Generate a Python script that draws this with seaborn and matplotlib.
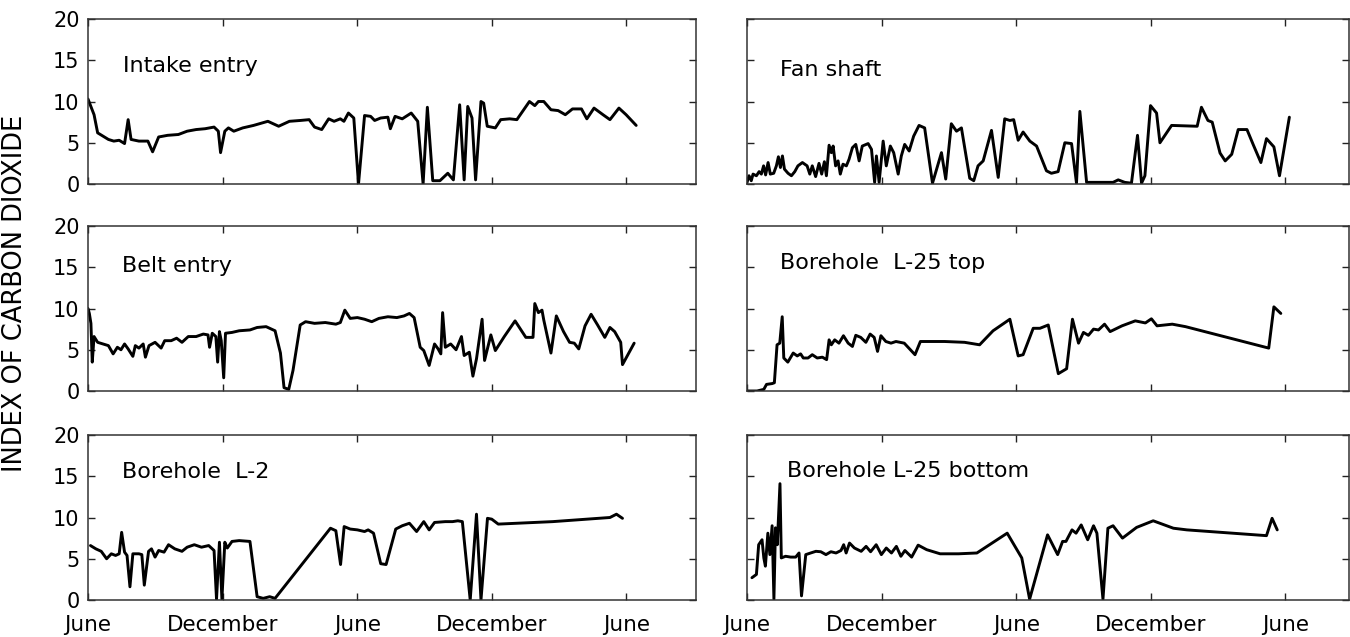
import matplotlib
matplotlib.use("Agg")
import matplotlib.pyplot as plt
import seaborn as sns

# Months elapsed since the first June, and index of carbon dioxide
intake_entry = [
    (0.00, 10.3), (0.27, 8.4), (0.43, 6.2), (0.67, 5.8), (0.91, 5.4), (1.15, 5.2),
    (1.39, 5.3), (1.63, 4.9), (1.79, 7.8), (1.92, 5.4), (2.27, 5.2), (2.67, 5.2),
    (2.88, 3.9), (3.15, 5.7), (3.55, 5.9), (4.03, 6.0), (4.42, 6.4), (4.82, 6.6),
    (5.22, 6.7), (5.62, 6.9), (5.81, 6.4), (5.91, 3.8), (6.10, 6.4), (6.26, 6.8),
    (6.50, 6.4), (6.90, 6.8), (7.38, 7.1), (8.02, 7.6), (8.50, 7.0), (8.98, 7.6),
    (9.46, 7.7), (9.86, 7.8), (10.10, 6.9), (10.42, 6.6), (10.73, 7.9), (10.97, 7.6),
    (11.25, 7.9), (11.41, 7.6), (11.61, 8.6), (11.85, 8.0), (12.06, 0.0), (12.33, 8.3),
    (12.60, 8.2), (12.78, 7.7), (13.05, 8.0), (13.37, 8.1), (13.48, 6.7), (13.69, 8.2),
    (14.01, 7.9), (14.41, 8.6), (14.70, 7.6), (14.94, 0.0), (15.13, 9.3), (15.37, 0.4),
    (15.69, 0.4), (16.04, 1.3), (16.29, 0.5), (16.57, 9.6), (16.77, 0.5), (16.93, 9.4),
    (17.12, 8.0), (17.28, 0.5), (17.52, 10.0), (17.64, 9.8), (17.80, 7.0), (18.16, 6.8),
    (18.40, 7.8), (18.80, 7.9), (19.12, 7.8), (19.68, 10.0), (19.92, 9.5), (20.08, 10.0),
    (20.32, 10.0), (20.64, 9.0), (20.96, 8.9), (21.28, 8.4), (21.60, 9.1), (22.00, 9.1),
    (22.24, 7.9), (22.56, 9.2), (22.96, 8.4), (23.27, 7.8), (23.67, 9.2), (23.99, 8.4),
    (24.44, 7.1),
]

fan_shaft = [
    (0.00, 0.2), (0.09, 1.0), (0.19, 0.4), (0.27, 1.2), (0.42, 1.0), (0.54, 1.5),
    (0.64, 1.2), (0.74, 2.2), (0.83, 1.1), (0.94, 2.6), (1.04, 1.2), (1.19, 1.3),
    (1.31, 2.2), (1.40, 3.3), (1.49, 2.0), (1.58, 3.4), (1.67, 1.8), (1.83, 1.3),
    (1.98, 1.0), (2.13, 1.5), (2.27, 2.2), (2.47, 2.6), (2.68, 2.2), (2.80, 1.2),
    (2.91, 2.2), (3.06, 0.9), (3.21, 2.5), (3.33, 1.2), (3.45, 2.7), (3.54, 1.0),
    (3.66, 4.7), (3.76, 3.8), (3.84, 4.6), (3.95, 2.2), (4.06, 2.8), (4.16, 1.2),
    (4.28, 2.4), (4.43, 2.2), (4.55, 3.0), (4.70, 4.4), (4.85, 4.8), (5.00, 2.8),
    (5.14, 4.6), (5.40, 4.9), (5.55, 4.2), (5.69, 0.2), (5.77, 3.4), (5.89, 0.2),
    (6.07, 5.2), (6.21, 2.2), (6.39, 4.6), (6.54, 3.8), (6.74, 1.2), (6.88, 3.4),
    (7.03, 4.8), (7.23, 4.0), (7.43, 5.8), (7.67, 7.1), (7.92, 6.8), (8.27, 0.1),
    (8.67, 3.8), (8.86, 0.6), (9.11, 7.3), (9.34, 6.4), (9.56, 6.8), (9.93, 0.7),
    (10.11, 0.4), (10.30, 2.2), (10.53, 2.8), (10.90, 6.5), (11.20, 0.8), (11.49, 7.9),
    (11.72, 7.7), (11.89, 7.8), (12.09, 5.3), (12.31, 6.3), (12.61, 5.2), (12.91, 4.6),
    (13.35, 1.6), (13.57, 1.3), (13.87, 1.5), (14.17, 5.0), (14.47, 4.9), (14.69, 0.1),
    (14.84, 8.8), (15.14, 0.2), (15.88, 0.2), (16.32, 0.2), (16.55, 0.5), (16.84, 0.2),
    (17.14, 0.1), (17.41, 5.9), (17.59, 0.1), (17.74, 1.0), (17.99, 9.5), (18.26, 8.6),
    (18.41, 5.0), (18.93, 7.1), (20.07, 7.0), (20.26, 9.3), (20.55, 7.7), (20.74, 7.5),
    (21.09, 3.75), (21.32, 2.8), (21.61, 3.6), (21.90, 6.6), (22.29, 6.6), (22.58, 4.7),
    (22.91, 2.6), (23.16, 5.5), (23.49, 4.5), (23.74, 1.0), (24.18, 8.1),
]

belt_entry = [
    (0.00, 10.0), (0.06, 9.4), (0.13, 8.2), (0.19, 3.5), (0.27, 6.6), (0.43, 5.9),
    (0.67, 5.7), (0.91, 5.5), (1.12, 4.5), (1.31, 5.3), (1.47, 5.0), (1.63, 5.7),
    (1.79, 5.1), (2.00, 4.2), (2.11, 5.5), (2.27, 5.2), (2.46, 5.7), (2.56, 4.1),
    (2.72, 5.5), (2.99, 5.9), (3.26, 5.2), (3.42, 6.1), (3.71, 6.1), (3.95, 6.4),
    (4.19, 5.9), (4.47, 6.6), (4.82, 6.6), (5.14, 6.9), (5.35, 6.8), (5.42, 5.3),
    (5.54, 7.0), (5.70, 6.6), (5.78, 3.5), (5.86, 7.2), (5.94, 6.1), (6.05, 1.6),
    (6.13, 7.0), (6.42, 7.1), (6.74, 7.3), (7.22, 7.4), (7.54, 7.7), (7.94, 7.8),
    (8.34, 7.3), (8.58, 4.6), (8.74, 0.4), (8.95, 0.2), (9.14, 2.5), (9.46, 8.0),
    (9.70, 8.4), (10.10, 8.2), (10.58, 8.3), (11.05, 8.1), (11.25, 8.3), (11.45, 9.8),
    (11.69, 8.8), (12.01, 8.9), (12.33, 8.7), (12.65, 8.4), (12.97, 8.8), (13.37, 9.0),
    (13.77, 8.9), (14.09, 9.1), (14.33, 9.4), (14.54, 8.9), (14.81, 5.3), (14.97, 4.9),
    (15.21, 3.1), (15.45, 5.7), (15.61, 5.1), (15.73, 4.5), (15.81, 9.5), (15.93, 5.3),
    (16.17, 5.7), (16.41, 5.0), (16.65, 6.6), (16.77, 4.3), (17.00, 4.7), (17.16, 1.8),
    (17.32, 3.9), (17.57, 8.7), (17.68, 3.7), (17.96, 6.8), (18.16, 4.9), (18.56, 6.6),
    (19.04, 8.5), (19.52, 6.5), (19.84, 6.5), (19.92, 10.6), (20.08, 9.5), (20.24, 9.8),
    (20.32, 8.6), (20.64, 4.6), (20.88, 9.1), (21.20, 7.2), (21.47, 5.9), (21.68, 5.8),
    (21.88, 5.1), (22.16, 7.9), (22.43, 9.3), (22.72, 8.0), (23.04, 6.5), (23.27, 7.7),
    (23.48, 7.2), (23.75, 5.9), (23.83, 3.2), (24.35, 5.8),
]

borehole_l25_top = [
    (0.00, 0.0), (0.45, 0.0), (0.75, 0.2), (0.87, 0.8), (1.12, 0.9), (1.22, 1.0),
    (1.34, 5.6), (1.46, 5.8), (1.57, 9.0), (1.64, 4.0), (1.82, 3.5), (2.06, 4.6),
    (2.24, 4.25), (2.39, 4.5), (2.51, 4.0), (2.72, 4.0), (2.91, 4.4), (3.13, 4.0),
    (3.36, 4.1), (3.55, 3.8), (3.66, 6.2), (3.76, 5.6), (3.91, 6.2), (4.10, 5.8),
    (4.30, 6.7), (4.51, 5.8), (4.70, 5.4), (4.85, 6.75), (5.07, 6.5), (5.30, 5.9),
    (5.49, 6.9), (5.67, 6.5), (5.82, 4.8), (5.97, 6.7), (6.19, 6.0), (6.42, 5.8),
    (6.64, 6.0), (7.01, 5.8), (7.49, 4.4), (7.73, 6.0), (8.81, 6.0), (9.70, 5.9),
    (10.37, 5.6), (10.97, 7.3), (11.72, 8.7), (12.09, 4.25), (12.31, 4.4), (12.76, 7.6),
    (13.06, 7.6), (13.43, 8.0), (13.88, 2.1), (14.25, 2.7), (14.51, 8.7), (14.78, 5.8),
    (15.00, 7.1), (15.22, 6.75), (15.45, 7.5), (15.67, 7.4), (15.94, 8.1), (16.19, 7.2),
    (16.72, 7.9), (17.31, 8.5), (17.76, 8.25), (18.03, 8.75), (18.28, 7.9), (18.96, 8.1),
    (19.55, 7.8), (23.26, 5.2), (23.49, 10.2), (23.80, 9.4),
]

borehole_l2 = [
    (0.11, 6.6), (0.35, 6.2), (0.59, 5.9), (0.83, 5.0), (1.04, 5.6), (1.23, 5.4),
    (1.39, 5.6), (1.50, 8.2), (1.63, 5.8), (1.74, 5.4), (1.87, 1.6), (2.00, 5.6),
    (2.27, 5.6), (2.40, 5.5), (2.51, 1.8), (2.70, 5.9), (2.83, 6.2), (2.99, 5.2),
    (3.15, 6.0), (3.39, 5.8), (3.59, 6.7), (3.87, 6.2), (4.19, 5.9), (4.42, 6.4),
    (4.74, 6.7), (5.06, 6.4), (5.38, 6.6), (5.62, 6.0), (5.73, 0.1), (5.86, 7.0),
    (5.97, 0.1), (6.10, 7.0), (6.21, 6.3), (6.42, 7.1), (6.74, 7.2), (7.22, 7.1),
    (7.54, 0.4), (7.81, 0.2), (8.10, 0.4), (8.34, 0.2), (10.81, 8.7), (11.05, 8.4),
    (11.26, 4.3), (11.42, 8.9), (11.69, 8.6), (12.01, 8.5), (12.33, 8.3), (12.49, 8.5),
    (12.73, 8.1), (13.05, 4.4), (13.29, 4.3), (13.72, 8.6), (14.01, 9.0), (14.33, 9.3),
    (14.65, 8.3), (14.97, 9.5), (15.21, 8.5), (15.45, 9.4), (15.93, 9.5), (16.25, 9.5),
    (16.49, 9.6), (16.69, 9.5), (17.04, 0.0), (17.32, 10.4), (17.52, 0.0), (17.81, 9.9),
    (18.00, 9.8), (18.29, 9.2), (20.72, 9.5), (23.27, 10.0), (23.56, 10.4), (23.83, 9.9),
]

borehole_l25_bottom = [
    (0.22, 2.7), (0.42, 3.1), (0.52, 6.7), (0.67, 7.3), (0.75, 5.1), (0.82, 4.1),
    (0.93, 8.1), (1.02, 5.5), (1.12, 9.0), (1.20, 0.1), (1.27, 8.75), (1.35, 6.7),
    (1.47, 14.1), (1.53, 5.1), (1.72, 5.3), (1.95, 5.2), (2.17, 5.2), (2.32, 5.7),
    (2.43, 0.5), (2.62, 5.5), (2.84, 5.7), (3.07, 5.9), (3.29, 5.85), (3.52, 5.5),
    (3.74, 5.85), (3.97, 5.7), (4.19, 6.0), (4.31, 6.7), (4.42, 5.7), (4.57, 6.9),
    (4.79, 6.3), (5.09, 5.9), (5.31, 6.5), (5.51, 5.85), (5.76, 6.7), (5.99, 5.5),
    (6.21, 6.3), (6.44, 5.7), (6.66, 6.5), (6.86, 5.3), (7.04, 6.0), (7.34, 5.2),
    (7.63, 6.65), (8.01, 6.1), (8.61, 5.6), (9.43, 5.6), (10.25, 5.7), (11.60, 8.1),
    (12.25, 5.1), (12.60, 0.1), (13.40, 7.9), (13.85, 5.5), (14.07, 7.1), (14.22, 7.1),
    (14.49, 8.5), (14.67, 8.1), (14.90, 9.1), (15.19, 7.3), (15.45, 9.0), (15.60, 8.1),
    (15.87, 0.1), (16.09, 8.7), (16.32, 9.0), (16.74, 7.5), (17.37, 8.8), (18.11, 9.6),
    (19.01, 8.7), (19.61, 8.5), (23.16, 7.8), (23.41, 9.9), (23.64, 8.5),
]

month_ticks = [0, 6, 12, 18, 24]
month_labels = ["June", "December", "June", "December", "June"]
index_ticks = [0, 5, 10, 15, 20]

panels = [
    # (series, title, title_x, title_y, column, row)
    (intake_entry, "Intake entry", 1.55, 14.3, 0, 0),
    (fan_shaft, "Fan shaft", 1.45, 13.8, 1, 0),
    (belt_entry, "Belt entry", 1.5, 15.1, 0, 1),
    (borehole_l25_top, "Borehole  L-25 top", 1.45, 15.5, 1, 1),
    (borehole_l2, "Borehole  L-2", 1.5, 15.5, 0, 2),
    (borehole_l25_bottom, "Borehole L-25 bottom", 1.8, 15.6, 1, 2),
]

sns.set_style("ticks")
plt.rcParams["font.family"] = ["DejaVu Sans"]

W, H = 1350, 637
fig = plt.figure(figsize=(W / 100, H / 100), dpi=100)

px_per_month = 22.43
col_left = [88, 747]
col_width = [608, 602]
row_top = [19, 226, 435]
row_height = 165

for series, title, tx, ty, col, row in panels:
    left = col_left[col] / W
    width = col_width[col] / W
    bottom = 1 - (row_top[row] + row_height) / H
    ax = fig.add_axes([left, bottom, width, row_height / H])

    months = [m for m, _ in series]
    values = [v for _, v in series]
    sns.lineplot(x=months, y=values, ax=ax, color="black", linewidth=2.1,
                 sort=False, estimator=None)

    ax.set_xlim(0, col_width[col] / px_per_month)
    ax.set_ylim(0, 20)
    ax.set_xticks(month_ticks)
    ax.set_yticks(index_ticks)
    ax.tick_params(direction="in", top=True, right=True, length=5, width=1,
                   colors="#222222", labelsize=15, labelcolor="black")
    ax.tick_params(axis="x", pad=11)
    ax.tick_params(axis="y", pad=6)
    if row == 2:
        ax.set_xticklabels(month_labels, fontsize=15.5)
    else:
        ax.tick_params(labelbottom=False)
    if col == 1:
        ax.tick_params(labelleft=False)
    ax.set_xlabel("")
    ax.set_ylabel("")
    for spine in ax.spines.values():
        spine.set_visible(True)
        spine.set_linewidth(1.1)
        spine.set_color("#333333")

    ax.text(tx, ty, title, fontsize=16, color="black", ha="left", va="center")

fig.text(0.011, 0.54, "INDEX OF CARBON DIOXIDE", rotation=90, fontsize=18.5,
         ha="center", va="center", color="black")

fig.savefig("out.png", dpi=100)
